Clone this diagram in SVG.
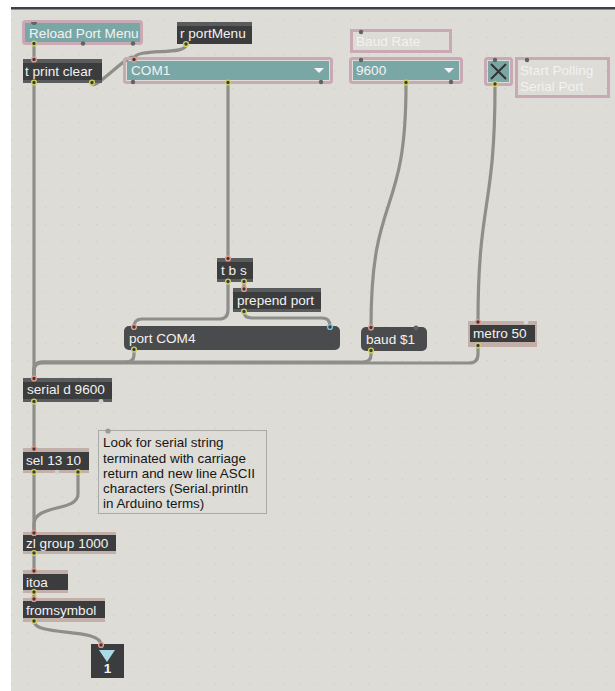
<svg xmlns="http://www.w3.org/2000/svg" width="615" height="691" viewBox="0 0 615 691">
<defs>
<pattern id="grid" x="11" y="3" width="17" height="17" patternUnits="userSpaceOnUse">
<rect x="-0.6" y="-0.6" width="1.3" height="1.3" fill="#b4b4af"/>
</pattern>
<style>
.cab{fill:none;stroke:#8e8e8b;stroke-width:3.2;stroke-linecap:round}
.obj{fill:#3b3c3d}
.band{fill:#5a5b5c}
.pband{fill:#c3afaa}
.msg{fill:#4a4b4c}
.hl{fill:none;stroke:#c9aab4;stroke-width:3}
.teal{fill:#79a7a6}
.t{font-family:"Liberation Sans",Arial,sans-serif;font-size:13.6px;fill:#f2f2f2}
.ct{font-family:"Liberation Sans",Arial,sans-serif;font-size:13.4px;fill:#151515}
.in{fill:#3b3c3d;stroke:#e59a8c;stroke-width:1.4}
.out{fill:#3b3c3d;stroke:#cfcf5e;stroke-width:1.4}
.sig{fill:#3b3c3d;stroke:#7cc4d6;stroke-width:1.4}
.np{fill:#626364}
</style>
</defs>
<rect x="0" y="0" width="615" height="691" fill="#ffffff"/>
<rect x="11" y="9" width="604" height="682" fill="#dddcd6"/>
<rect x="11" y="9" width="604" height="682" fill="url(#grid)"/>
<rect x="11" y="7" width="604" height="2.5" fill="#3d4143"/>

<g id="connectors">
<path class="cab" d="M34,44 L34,60"/>
<path class="cab" d="M186,45 C186,56 134,47 134,59"/>
<path class="cab" d="M92,83 C92,94 134,47 134,59"/>
<path class="cab" d="M34,83 L34,378"/>
<path class="cab" d="M228,84 L228,258"/>
<path class="cab" d="M244,282 L244,289"/>
<path class="cab" d="M228,282 L228,310 Q228,319 219,319 L142,319 Q134,319 134,327"/>
<path class="cab" d="M244,312 Q244,318 252,318 L322,318 Q330,318 330,326"/>
<path class="cab" d="M134,350 L134,355 Q134,362 126,362 L42,362 Q34,362 34,370 L34,378"/>
<path class="cab" d="M371,351 L371,355 Q371,362 363,362 L42,362 Q34,362 34,370 L34,378"/>
<path class="cab" d="M478,346 L478,354 Q478,363 469,363 L42,363 Q34,363 34,371 L34,378"/>
<path class="cab" d="M406,85 C406,220 371,190 371,327"/>
<path class="cab" d="M495,86 C495,210 478,200 478,322"/>
<path class="cab" d="M34,402 L34,449"/>
<path class="cab" d="M34,472 L34,532"/>
<path class="cab" d="M78,472 L78,494 C78,512 34,504 34,524 L34,532"/>
<path class="cab" d="M34,553 L34,571"/>
<path class="cab" d="M34,592 L34,598"/>
<path class="cab" d="M34,621 C34,637 101,627 101,645"/>
</g>

<g id="reload-port-menu">
<rect x="23.5" y="21.5" width="118" height="22" rx="2" class="hl"/>
<rect x="25" y="23" width="115" height="19" class="teal"/>
<text x="29" y="38" class="t">Reload Port Menu</text>
<path d="M31,22 a3,3 0 0 0 6,0z" class="np"/>
<circle cx="34" cy="43.5" r="2.4" class="out"/>
<circle cx="83" cy="43.5" r="2.2" class="np"/>
<circle cx="133" cy="43.5" r="2.2" class="np"/>
</g>

<g id="r-portMenu">
<rect x="177" y="22" width="75" height="22" class="obj"/>
<rect x="177" y="22" width="75" height="4" class="band"/>
<text x="180" y="38" class="t">r portMenu</text>
<circle cx="186" cy="44" r="2.4" class="out"/>
</g>

<g id="t-print-clear">
<rect x="23" y="59" width="79" height="24" class="obj"/>
<rect x="23" y="59" width="79" height="4" class="band"/>
<rect x="23" y="80" width="79" height="3" class="band"/>
<text x="25" y="76" class="t">t print clear</text>
<circle cx="34" cy="59.5" r="2.4" class="in"/>
<circle cx="34" cy="82.5" r="2.4" class="out"/>
<circle cx="92" cy="82.5" r="2.4" class="out"/>
</g>

<g id="com-menu">
<rect x="124.5" y="58.5" width="207" height="24" rx="2" class="hl"/>
<rect x="127" y="61" width="202" height="19" class="teal"/>
<text x="131" y="75" class="t">COM1</text>
<path d="M314,68 L324,68 L319,73z" fill="#f4f4f4"/>
<circle cx="134" cy="59.5" r="2.4" class="in"/>
<circle cx="228" cy="82.5" r="2.4" class="out"/>
<circle cx="133" cy="82" r="2.2" class="np"/>
<circle cx="321" cy="82" r="2.2" class="np"/>
</g>

<g id="baud-rate-label">
<rect x="351.5" y="30.5" width="99" height="21" class="hl"/>
<text x="356" y="46" class="t">Baud Rate</text>
<circle cx="361" cy="32" r="2.2" class="np"/>
</g>

<g id="baud-menu">
<rect x="350.5" y="58.5" width="111" height="24" rx="2" class="hl"/>
<rect x="353" y="61" width="106" height="19" class="teal"/>
<text x="356" y="75" class="t">9600</text>
<path d="M444,68 L454,68 L449,73z" fill="#f4f4f4"/>
<circle cx="361" cy="60" r="2.2" class="np"/>
<circle cx="406" cy="82.5" r="2.4" class="out"/>
<circle cx="451" cy="82" r="2.2" class="np"/>
</g>

<g id="toggle">
<rect x="485.5" y="58.5" width="26" height="26" rx="2" class="hl"/>
<rect x="488" y="61" width="21" height="21" class="teal"/>
<path d="M491,64 L506,79 M506,64 L491,79" stroke="#333" stroke-width="2"/>
<circle cx="495" cy="60" r="2.2" class="np"/>
<circle cx="495" cy="84" r="2.4" class="out"/>
</g>

<g id="start-polling-label">
<rect x="516.5" y="58.5" width="92" height="38" class="hl"/>
<text x="520" y="75" class="t">Start Polling</text>
<text x="520" y="91" class="t">Serial Port</text>
<circle cx="527" cy="60" r="2.2" class="np"/>
</g>

<g id="t-b-s">
<rect x="217" y="258" width="36" height="24" class="obj"/>
<rect x="217" y="258" width="36" height="4" class="band"/>
<rect x="217" y="279" width="36" height="3" class="band"/>
<text x="221" y="275" class="t">t b s</text>
<circle cx="228" cy="258.5" r="2.4" class="in"/>
<circle cx="228" cy="281.5" r="2.4" class="out"/>
<circle cx="244" cy="281.5" r="2.4" class="out"/>
</g>

<g id="prepend-port">
<rect x="233" y="288" width="88" height="24" class="obj"/>
<rect x="233" y="288" width="88" height="4" class="band"/>
<rect x="233" y="309" width="88" height="3" class="band"/>
<text x="237" y="305" class="t">prepend port</text>
<circle cx="244" cy="289" r="2.4" class="in"/>
<circle cx="244" cy="311.5" r="2.4" class="out"/>
</g>

<g id="port-com4">
<rect x="124" y="326" width="216" height="24" rx="5" class="msg"/>
<text x="129" y="343" class="t">port COM4</text>
<circle cx="134" cy="327" r="2.4" class="in"/>
<circle cx="330" cy="327" r="2.4" class="sig"/>
<circle cx="134" cy="349.5" r="2.4" class="out"/>
</g>

<g id="baud-msg">
<rect x="361" y="327" width="66" height="24" rx="5" class="msg"/>
<text x="366" y="344" class="t">baud $1</text>
<circle cx="371" cy="327.5" r="2.4" class="in"/>
<circle cx="416" cy="328" r="2.4" class="np"/>
<circle cx="371" cy="350.5" r="2.4" class="out"/>
</g>

<g id="metro-50">
<rect x="468" y="321" width="69" height="26" class="pband"/>
<rect x="470" y="325" width="65" height="17" class="obj"/>
<text x="473" y="338" class="t">metro 50</text>
<circle cx="478" cy="322" r="2.4" class="in"/>
<circle cx="526" cy="322" r="2.4" fill="#d8d8d8"/>
<circle cx="478" cy="345.5" r="2.4" class="out"/>
</g>

<g id="serial">
<rect x="23" y="378" width="89" height="24" class="obj"/>
<rect x="23" y="378" width="89" height="4" class="band"/>
<rect x="23" y="399" width="89" height="3" class="band"/>
<text x="27" y="394" class="t">serial d 9600</text>
<circle cx="34" cy="378.5" r="2.4" class="in"/>
<circle cx="34" cy="401.5" r="2.4" class="out"/>
<circle cx="101" cy="401.5" r="2.4" fill="#cfcfcf"/>
</g>

<g id="comment">
<rect x="98.5" y="430.5" width="168" height="83" fill="none" stroke="#a9a9a6" stroke-width="1"/>
<circle cx="108" cy="431" r="2.6" fill="#9a9a98"/>
<text class="ct" x="103" y="447">Look for serial string</text>
<text class="ct" x="103" y="463">terminated with carriage</text>
<text class="ct" x="103" y="478">return and new line ASCII</text>
<text class="ct" x="103" y="493">characters (Serial.println</text>
<text class="ct" x="103" y="508">in Arduino terms)</text>
</g>

<g id="sel-13-10">
<rect x="23" y="448" width="66" height="25" class="pband"/>
<rect x="23" y="452" width="66" height="18" class="obj"/>
<text x="26" y="465" class="t">sel 13 10</text>
<circle cx="34" cy="449" r="2.4" class="in"/>
<circle cx="34" cy="472" r="2.4" class="out"/>
<circle cx="57" cy="472" r="2.2" fill="#d0cfcd"/>
<circle cx="78" cy="472" r="2.4" class="out"/>
</g>

<g id="zl-group">
<rect x="23" y="532" width="93" height="22" class="pband"/>
<rect x="23" y="535" width="93" height="16" class="obj"/>
<text x="26" y="548" class="t">zl group 1000</text>
<circle cx="34" cy="533" r="2.4" class="in"/>
<circle cx="34" cy="553" r="2.4" class="out"/>
</g>

<g id="itoa">
<rect x="23" y="570" width="45" height="23" class="pband"/>
<rect x="23" y="574" width="45" height="16" class="obj"/>
<text x="26" y="587" class="t">itoa</text>
<circle cx="34" cy="571" r="2.4" class="in"/>
<circle cx="34" cy="592" r="2.4" class="out"/>
</g>

<g id="fromsymbol">
<rect x="23" y="598" width="82" height="24" class="pband"/>
<rect x="23" y="601" width="82" height="17" class="obj"/>
<text x="26" y="615" class="t">fromsymbol</text>
<circle cx="34" cy="599" r="2.4" class="in"/>
<circle cx="34" cy="621" r="2.4" class="out"/>
</g>

<g id="outlet-1">
<rect x="91" y="644" width="33" height="34" class="obj"/>
<path d="M99,650 L115,650 L107,662z" fill="#a9dbe6"/>
<text x="107.5" y="673" class="t" text-anchor="middle" font-weight="bold">1</text>
<circle cx="101" cy="645" r="2.4" class="in"/>
</g>
</svg>
